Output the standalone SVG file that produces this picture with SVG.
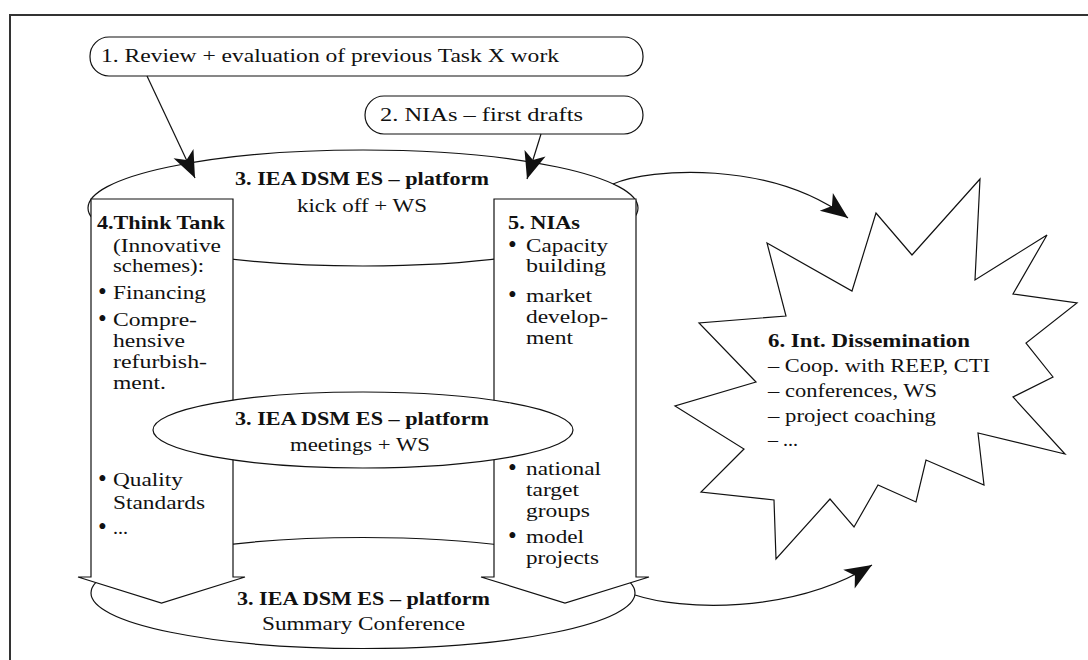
<svg xmlns="http://www.w3.org/2000/svg" width="1088" height="660" viewBox="0 0 1088 660">
<defs>
<style>
.s{fill:#fff;stroke:#111;stroke-width:1.2}
.t{font-family:"Liberation Serif","Times New Roman",serif;font-size:19.5px;fill:#111}
.u{font-family:"Liberation Serif","Times New Roman",serif;font-size:25px;fill:#111}
.b{font-weight:bold}
.c{fill:none;stroke:#111;stroke-width:1.2}
</style>
<marker id="ah" viewBox="-30 -14 32 28" refX="0" refY="0" markerWidth="32" markerHeight="28" markerUnits="userSpaceOnUse" orient="auto">
<path d="M0,0 L-27,-11 L-20,0 L-27,11 Z" fill="#111"/>
</marker>
</defs>
<rect width="1088" height="660" fill="#fff"/>
<path d="M10,660 V15 H1088" fill="none" stroke="#333" stroke-width="2"/>

<g id="box1">
<rect class="s" x="90" y="37" width="553" height="39" rx="19"/>
<text class="t" x="101" y="62" textLength="458" lengthAdjust="spacingAndGlyphs">1. Review + evaluation of previous Task X work</text>
</g>
<g id="box2">
<rect class="s" x="365" y="96" width="278" height="38" rx="19"/>
<text class="t" x="380" y="121" textLength="203" lengthAdjust="spacingAndGlyphs">2. NIAs – first drafts</text>
</g>

<g id="platform-top">
<ellipse class="s" cx="363" cy="208" rx="275" ry="58"/>
<text class="t b" x="235" y="185" textLength="254" lengthAdjust="spacingAndGlyphs">3. IEA DSM ES – platform</text>
<text class="t" x="297" y="212" textLength="130" lengthAdjust="spacingAndGlyphs">kick off + WS</text>
</g>
<g id="platform-bottom">
<ellipse class="s" cx="363" cy="593" rx="272" ry="55.5"/>
<text class="t b" x="237" y="605" textLength="253" lengthAdjust="spacingAndGlyphs">3. IEA DSM ES – platform</text>
<text class="t" x="262" y="630" textLength="203" lengthAdjust="spacingAndGlyphs">Summary Conference</text>
</g>

<g id="think-tank">
<path class="s" d="M91,199 H233 V577 H245 L161.5,603 L78,577 H91 Z"/>
<text class="t b" x="97" y="229" textLength="128" lengthAdjust="spacingAndGlyphs">4.Think Tank</text>
<text class="t" x="113" y="252" textLength="108" lengthAdjust="spacingAndGlyphs">(Innovative</text>
<text class="t" x="113" y="272" textLength="91" lengthAdjust="spacingAndGlyphs">schemes):</text>
<text class="u" x="98" y="300">•</text>
<text class="t" x="113" y="299" textLength="93" lengthAdjust="spacingAndGlyphs">Financing</text>
<text class="u" x="98" y="327">•</text>
<text class="t" x="113" y="326" textLength="84" lengthAdjust="spacingAndGlyphs">Compre-</text>
<text class="t" x="113" y="347" textLength="72" lengthAdjust="spacingAndGlyphs">hensive</text>
<text class="t" x="113" y="368" textLength="94" lengthAdjust="spacingAndGlyphs">refurbish-</text>
<text class="t" x="113" y="389" textLength="53" lengthAdjust="spacingAndGlyphs">ment.</text>
<text class="u" x="98" y="487">•</text>
<text class="t" x="113" y="486" textLength="70" lengthAdjust="spacingAndGlyphs">Quality</text>
<text class="t" x="113" y="509" textLength="92" lengthAdjust="spacingAndGlyphs">Standards</text>
<text class="u" x="98" y="535">•</text>
<text class="t" x="113" y="534" textLength="15" lengthAdjust="spacingAndGlyphs">...</text>
</g>

<g id="nias">
<path class="s" d="M494,199 H636 V577 H649 L565,603 L481,577 H494 Z"/>
<text class="t b" x="508" y="229" textLength="72" lengthAdjust="spacingAndGlyphs">5. NIAs</text>
<text class="u" x="508" y="253">•</text>
<text class="t" x="526" y="252" textLength="82" lengthAdjust="spacingAndGlyphs">Capacity</text>
<text class="t" x="526" y="272" textLength="80" lengthAdjust="spacingAndGlyphs">building</text>
<text class="u" x="508" y="303">•</text>
<text class="t" x="526" y="302" textLength="66" lengthAdjust="spacingAndGlyphs">market</text>
<text class="t" x="526" y="323" textLength="82" lengthAdjust="spacingAndGlyphs">develop-</text>
<text class="t" x="526" y="344" textLength="47" lengthAdjust="spacingAndGlyphs">ment</text>
<text class="u" x="508" y="476">•</text>
<text class="t" x="526" y="475" textLength="75" lengthAdjust="spacingAndGlyphs">national</text>
<text class="t" x="526" y="496" textLength="53" lengthAdjust="spacingAndGlyphs">target</text>
<text class="t" x="526" y="517" textLength="64" lengthAdjust="spacingAndGlyphs">groups</text>
<text class="u" x="508" y="544">•</text>
<text class="t" x="526" y="543" textLength="58" lengthAdjust="spacingAndGlyphs">model</text>
<text class="t" x="526" y="564" textLength="73" lengthAdjust="spacingAndGlyphs">projects</text>
</g>

<g id="platform-mid">
<ellipse class="s" cx="363" cy="430" rx="210" ry="38"/>
<text class="t b" x="235" y="425" textLength="254" lengthAdjust="spacingAndGlyphs">3. IEA DSM ES – platform</text>
<text class="t" x="290" y="451" textLength="140" lengthAdjust="spacingAndGlyphs">meetings + WS</text>
</g>

<g id="dissemination">
<polygon class="s" points="767,243 852,291 876,213 912,255 980,179 975,280 1047,235 1013,294 1077,303 1026,343 1053,377 1013,397 1065,454 978,433 984,485 926,460 916,502 878,485 854,527 830,499 776,559 774,500 701,492 744,449 675,406 756,382 699,323 786,316"/>
<text class="t b" x="768" y="347" textLength="202" lengthAdjust="spacingAndGlyphs">6. Int. Dissemination</text>
<text class="t" x="768" y="372" textLength="222" lengthAdjust="spacingAndGlyphs">– Coop. with REEP, CTI</text>
<text class="t" x="768" y="397" textLength="169" lengthAdjust="spacingAndGlyphs">– conferences, WS</text>
<text class="t" x="768" y="422" textLength="168" lengthAdjust="spacingAndGlyphs">– project coaching</text>
<text class="t" x="768" y="446" textLength="30" lengthAdjust="spacingAndGlyphs">– ...</text>
</g>

<g id="connectors">
<path class="c" d="M147,76 L195,178" marker-end="url(#ah)"/>
<path class="c" d="M541,134 L527,179" marker-end="url(#ah)"/>
<path class="c" d="M613,184 C650,168 770,160 848,218" marker-end="url(#ah)"/>
<path class="c" d="M635,595 C680,610 790,615 872,565" marker-end="url(#ah)"/>
</g>
</svg>
